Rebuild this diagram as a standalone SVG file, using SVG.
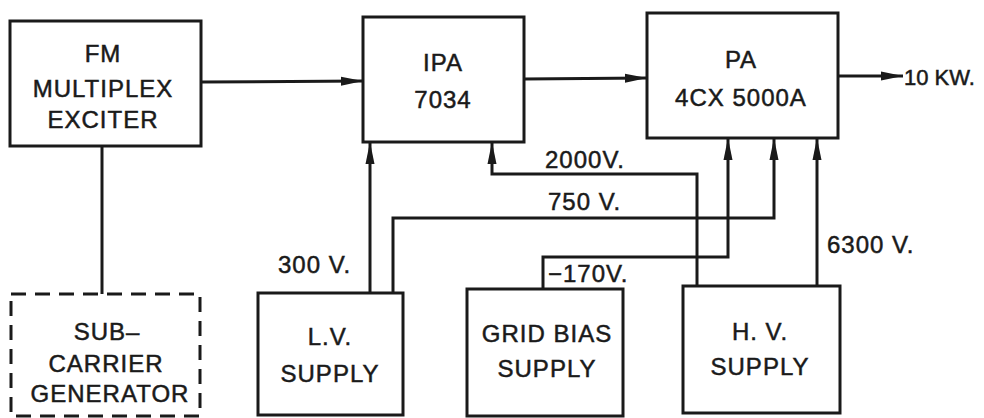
<svg xmlns="http://www.w3.org/2000/svg" width="984" height="418" viewBox="0 0 984 418">
<style>
.box{fill:none;stroke:#1a1a1a;stroke-width:3}
.dash{fill:none;stroke:#1a1a1a;stroke-width:3;stroke-dasharray:15 9}
.wire{fill:none;stroke:#1a1a1a;stroke-width:3}
.t{font-family:"Liberation Sans",Arial,sans-serif;font-size:24px;fill:#1a1a1a;stroke:#1a1a1a;stroke-width:0.5;text-anchor:middle;letter-spacing:1px}
.l{font-family:"Liberation Sans",Arial,sans-serif;font-size:24px;fill:#1a1a1a;stroke:#1a1a1a;stroke-width:0.5;letter-spacing:1px}
</style>
<defs>
<marker id="ah" viewBox="0 0 22 10" refX="22" refY="5" markerWidth="22" markerHeight="10" markerUnits="userSpaceOnUse" orient="auto">
<path d="M0,0.5 L22,5 L0,9.5 z" fill="#1a1a1a"/>
</marker>
</defs>
<rect width="984" height="418" fill="#ffffff"/>
<g id="connectors">
<path class="wire" d="M201,82 L363,81" marker-end="url(#ah)"/>
<path class="wire" d="M524,79 L647,78" marker-end="url(#ah)"/>
<path class="wire" d="M838,76 L903,76" marker-end="url(#ah)"/>
<path class="wire" d="M102,146 L102,294"/>
<path class="wire" d="M370,293 L370,142" marker-end="url(#ah)"/>
<path class="wire" d="M393,293 L393,218 L774,218 L774,138" marker-end="url(#ah)"/>
<path class="wire" d="M697,287 L697,174 L492,174 L492,142" marker-end="url(#ah)"/>
<path class="wire" d="M543,289 L543,257 L728,257 L728,138" marker-end="url(#ah)"/>
<path class="wire" d="M817,287 L817,138" marker-end="url(#ah)"/>
</g>
<g id="labels">
<text class="l" x="904" y="85" style="font-size:22px;letter-spacing:0">10 KW.</text>
<text class="l" x="278" y="273">300 V.</text>
<text class="l" x="545" y="168">2000V.</text>
<text class="l" x="548" y="210">750 V.</text>
<text class="l" x="548" y="282">−170V.</text>
<text class="l" x="827" y="253">6300 V.</text>
</g>
<g id="fm-exciter">
<rect class="box" x="10" y="21" width="191" height="125"/>
<text class="t" x="103" y="62">FM</text>
<text class="t" x="103" y="97">MULTIPLEX</text>
<text class="t" x="103" y="128">EXCITER</text>
</g>
<g id="ipa">
<rect class="box" x="363" y="17" width="161" height="125"/>
<text class="t" x="443" y="71">IPA</text>
<text class="t" x="443" y="108">7034</text>
</g>
<g id="pa">
<rect class="box" x="647" y="13" width="191" height="125"/>
<text class="t" x="741" y="68">PA</text>
<text class="t" x="741" y="106">4CX 5000A</text>
</g>
<g id="subcarrier">
<rect class="dash" x="11" y="294" width="189" height="122"/>
<text class="t" x="107" y="340">SUB–</text>
<text class="t" x="106" y="372">CARRIER</text>
<text class="t" x="110" y="402">GENERATOR</text>
</g>
<g id="lv-supply">
<rect class="box" x="258" y="293" width="145" height="122"/>
<text class="t" x="330" y="345">L.V.</text>
<text class="t" x="330" y="382">SUPPLY</text>
</g>
<g id="grid-bias">
<rect class="box" x="467" y="289" width="156" height="127"/>
<text class="t" x="547" y="342">GRID BIAS</text>
<text class="t" x="547" y="377">SUPPLY</text>
</g>
<g id="hv-supply">
<rect class="box" x="683" y="286" width="157" height="127"/>
<text class="t" x="760" y="340">H. V.</text>
<text class="t" x="760" y="375">SUPPLY</text>
</g>
</svg>
